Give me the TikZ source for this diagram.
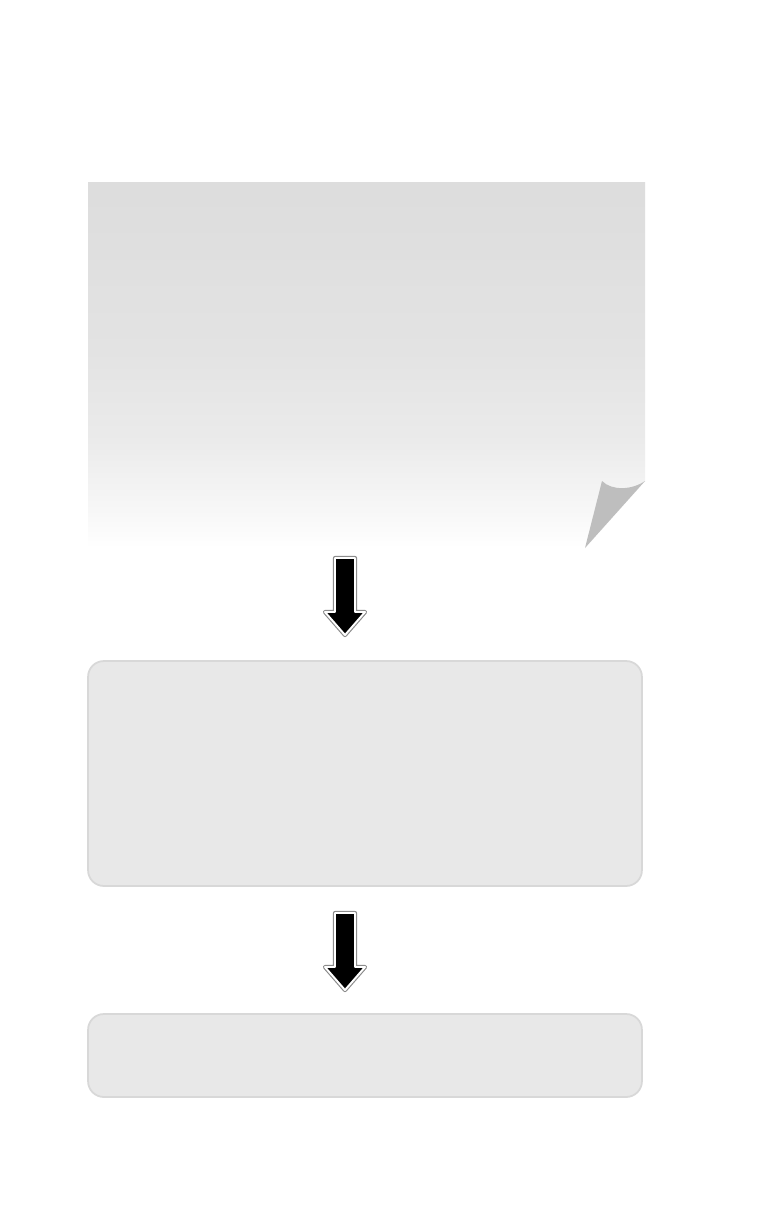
\documentclass[tikz,border=0pt]{standalone}
\usetikzlibrary{calc}
\definecolor{boxfill}{HTML}{E8E8E8}
\definecolor{boxline}{HTML}{D8D8D8}
\definecolor{curlgray}{HTML}{BEBEBE}
\pgfdeclareverticalshading{paperfade}{100bp}{color(0bp)=(white); color(25bp)=(white); color(30bp)=(black!3); color(40bp)=(black!8); color(52bp)=(black!11); color(75bp)=(black!13.5); color(100bp)=(black!13.5)}
% block arrow pointing down, from top centre #1 to tip #2
\newcommand\downshape[2]{($(#1)+(-10,0)$) -- ($(#1)+(10,0)$) -- ($(#2)+(10,-23)$) -- ($(#2)+(20,-23)$) -- (#2) -- ($(#2)+(-20,-23)$) -- ($(#2)+(-10,-23)$) -- cycle}
\begin{document}
\begin{tikzpicture}[x=0.02cm,y=-0.02cm,line join=round,
  stagebox/.style={draw=boxline,fill=boxfill,line width=1pt,rounded corners=9pt,minimum width=11.08cm},
  arrowrim/.style={draw=black!45,line width=2.4pt},
  arrowbody/.style={draw=white,line width=1.1pt,fill=black}]
\fill[white] (0,0) rectangle (771,1225);
\useasboundingbox (0,0) rectangle (771,1225);
% curled sheet
\shade[shading=paperfade] (88,182) -- (645,182) -- (645,481) -- (585,548) -- (88,548) -- cycle;
\fill[curlgray] (602,481) .. controls (612,491) and (632,490) .. (645,481) -- (585,548) -- cycle;
% boxes
\node[stagebox,minimum height=4.5cm] (mid) at (365,773.5) {};
\node[stagebox,minimum height=1.66cm] (low) at (365,1055.5) {};
% arrows
\coordinate (a1top) at (345,558);
\coordinate (a1tip) at (345,635);
\coordinate (a2top) at (345,913);
\coordinate (a2tip) at (345,990);
\foreach \t/\e in {a1top/a1tip,a2top/a2tip}{
\path[arrowrim] \downshape{\t}{\e};
\path[arrowbody] \downshape{\t}{\e};
}
\end{tikzpicture}
\end{document}
